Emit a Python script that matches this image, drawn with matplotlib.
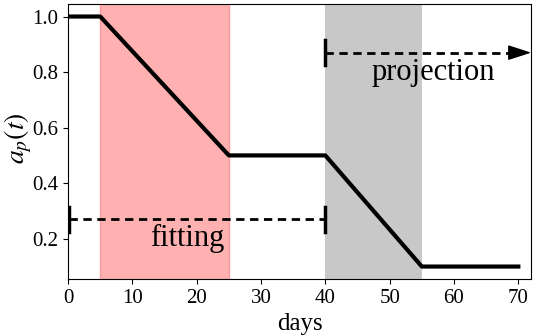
import numpy as np
import matplotlib.pyplot as plt

plt.rcParams['font.family'] = ['Liberation Serif', 'DejaVu Serif']
plt.rcParams['mathtext.fontset'] = 'stix'

# piecewise a_p(t)
dias = [0, 5, 25, 40, 55, 70]
ap = [1.0, 1.0, 0.5, 0.5, 0.1, 0.1]

ventana_ajuste = (5, 25)
ventana_proy = (40, 55)
ajuste_x = (0.2, 40)
ajuste_y = 0.27
proy_x = (40, 72)
proy_y = 0.87

fig, ax = plt.subplots(figsize=(5.36, 3.35), dpi=100)
fig.subplots_adjust(left=0.127, right=0.991, top=0.988, bottom=0.167)
ax.axvspan(*ventana_ajuste, color='#ffb1b1', lw=1, ec='#ff9a9a', zorder=0)
ax.axvspan(*ventana_proy, color='#c8c8c8', lw=0, zorder=0)
ax.plot(dias, ap, color='black', lw=3, zorder=3)

# fitting
ax.plot(ajuste_x, [ajuste_y] * 2, 'k--', lw=2, dashes=(3, 2))
for xv in ajuste_x:
    ax.plot([xv, xv], [ajuste_y - 0.045, ajuste_y + 0.045], 'k-', lw=2.5)
ax.text(18.5, 0.2, 'fitting', fontsize=22, ha='center', va='center')

# projection
ax.plot([proy_x[0], proy_x[0]], [proy_y - 0.045, proy_y + 0.045], 'k-', lw=2.5)
ax.plot([proy_x[0], proy_x[1] - 2.5], [proy_y] * 2, 'k--', lw=2, dashes=(3, 2))
ax.annotate('', xy=(proy_x[1], proy_y), xytext=(proy_x[1] - 3.5, proy_y),
            arrowprops=dict(arrowstyle='-|>,head_length=1.45,head_width=0.47',
                            lw=1, color='black', shrinkA=0, shrinkB=0),
            annotation_clip=False)
ax.text(56.8, 0.80, 'projection', fontsize=22, ha='center', va='center')

ax.set_xlim(0, 72)
ax.set_ylim(0.055, 1.045)
ax.set_xticks([0, 10, 20, 30, 40, 50, 60, 70])
ax.set_yticks([0.2, 0.4, 0.6, 0.8, 1.0])
ax.tick_params(labelsize=15)
ax.set_xlabel('days', fontsize=18)
fig.text(0.034, 0.588, '$a_p(t)$', fontsize=20, rotation=90,
         ha='center', va='center')

plt.savefig('out.png', dpi=100)
